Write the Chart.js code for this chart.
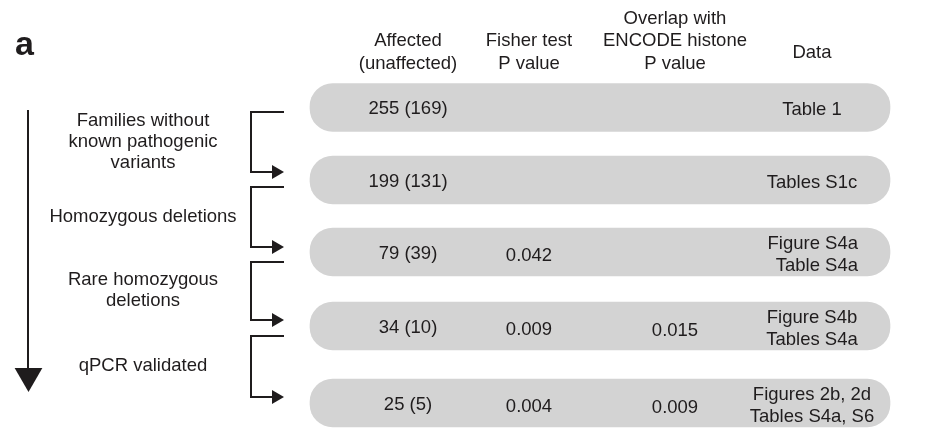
<!DOCTYPE html>
<html>
<head>
<meta charset="utf-8">
<script src="https://cdn.jsdelivr.net/npm/chart.js@4/dist/chart.umd.min.js"></script>
<style>
  html, body { margin: 0; padding: 0; background: #ffffff; }
  #wrap { width: 942px; height: 430px; }
</style>
</head>
<body>
<div id="wrap"><canvas id="chart" width="942" height="430"></canvas></div>
<script>
// ---------- data ----------
const columnHeaders = [
  ['Affected', '(unaffected)'],
  ['Fisher test', 'P value'],
  ['Overlap with', 'ENCODE histone', 'P value'],
  ['Data']
];
const affected   = [255, 199, 79, 34, 25];
const unaffected = [169, 131, 39, 10, 5];
const fisherP    = [null, null, 0.042, 0.009, 0.004];
const encodeP    = [null, null, null, 0.015, 0.009];
const dataRefs = [
  ['Table 1'],
  ['Tables S1c'],
  ['Figure S4a', 'Table S4a'],
  ['Figure S4b', 'Tables S4a'],
  ['Figures 2b, 2d', 'Tables S4a, S6']
];
const filterSteps = [
  ['Families without', 'known pathogenic', 'variants'],
  ['Homozygous deletions'],
  ['Rare homozygous', 'deletions'],
  ['qPCR validated']
];
const panelLabel = 'a';

// ---------- layout (scale units = canvas pixels) ----------
const ROW_Y      = [107.5, 180, 252, 326, 403];
const COL_X      = [408, 529, 675, 812];
const HEADER_Y   = [62, 62, 62, 51];     // baseline row of each header block
const BOX_X      = [310, 890];
const STEP_TOP   = [112, 187, 262, 336];
const STEP_BOT   = [172, 247, 320, 397];
const STEP_TEXT_X = 143;
const BRACKET_X  = 251;
const BRACKET_END = 284;
const HEAD_R     = 8;
const AXIS_X     = 28;
const AXIS_TOP   = 110;
const AXIS_HEAD  = 376;
const AXIS_HEAD_R = 16;
const REF_RIGHT_ROWS = [2];   // reference lists set flush right in these rows
const REF_RIGHT_X = 858;

// ---------- style ----------
const INK = '#1f1c1d';
const BOX_FILL = '#d3d3d3';
const FONT = "'Liberation Sans', Arial, Helvetica, sans-serif";
const FONT_SIZE = 18.5;
const LINE_GAP = 22.5;
const BASE_SHIFT = 6.6;

// rounded row boxes
const boxData = ROW_Y.map(y => ({ x: BOX_X.slice(), y }));

// connectors between successive filtering steps
const bracketSets = STEP_TOP.map((top, i) => ({
  type: 'scatter',
  showLine: true,
  data: [
    { x: BRACKET_END, y: top },
    { x: BRACKET_X, y: top },
    { x: BRACKET_X, y: STEP_BOT[i] },
    { x: BRACKET_END - HEAD_R, y: STEP_BOT[i] }
  ],
  borderColor: INK,
  borderWidth: 2,
  borderJoinStyle: 'miter',
  pointRadius: 0,
  tension: 0
}));

const datasets = [
  {
    type: 'bar',
    data: boxData,
    backgroundColor: BOX_FILL,
    borderWidth: 0,
    borderRadius: 23,
    borderSkipped: false,
    barThickness: 48,
    indexAxis: 'y'
  },
  ...bracketSets,
  {
    type: 'scatter',
    data: STEP_BOT.map(y => ({ x: BRACKET_END - HEAD_R, y })),
    pointStyle: 'triangle',
    rotation: 90,
    pointRadius: HEAD_R,
    pointBackgroundColor: INK,
    pointBorderWidth: 0
  },
  {
    type: 'scatter',
    showLine: true,
    data: [{ x: AXIS_X, y: AXIS_TOP }, { x: AXIS_X, y: AXIS_HEAD - 4 }],
    borderColor: INK,
    borderWidth: 2,
    pointRadius: 0
  },
  {
    type: 'scatter',
    data: [{ x: AXIS_X + 0.5, y: AXIS_HEAD }],
    pointStyle: 'triangle',
    rotation: 180,
    pointRadius: AXIS_HEAD_R,
    pointBackgroundColor: INK,
    pointBorderWidth: 0
  }
];

// all text is placed through the chart scales
const tableText = {
  id: 'tableText',
  afterDatasetsDraw(chart) {
    const { ctx, scales: { x, y } } = chart;
    const put = (s, xv, yv, size, weight, align) => {
      ctx.font = `${weight || 'normal'} ${size || FONT_SIZE}px ${FONT}`;
      ctx.textAlign = align || 'center';
      ctx.fillText(s, x.getPixelForValue(xv), y.getPixelForValue(yv) + BASE_SHIFT);
    };
    ctx.save();
    ctx.fillStyle = INK;
    ctx.textBaseline = 'alphabetic';

    put(panelLabel, 15, 48, 34, 'bold', 'left');

    columnHeaders.forEach((lines, c) => {
      const n = lines.length;
      lines.forEach((s, k) => put(s, COL_X[c], HEADER_Y[c] - (n - 1 - k) * LINE_GAP));
    });

    ROW_Y.forEach((ry, i) => {
      put(`${affected[i]} (${unaffected[i]})`, COL_X[0], ry);
      if (fisherP[i] !== null) put(fisherP[i].toFixed(3), COL_X[1], ry + 2);
      if (encodeP[i] !== null) put(encodeP[i].toFixed(3), COL_X[2], ry + 3);
      const refs = dataRefs[i];
      const flush = REF_RIGHT_ROWS.includes(i);
      refs.forEach((s, k) => put(s, flush ? REF_RIGHT_X : COL_X[3],
        ry + 1 + (k - (refs.length - 1) / 2) * 22, null, null, flush ? 'right' : 'center'));
    });

    filterSteps.forEach((lines, i) => {
      const mid = (STEP_TOP[i] + STEP_BOT[i]) / 2 - 2;
      lines.forEach((s, k) => put(s, STEP_TEXT_X, mid + (k - (lines.length - 1) / 2) * 21));
    });
    ctx.restore();
  }
};

new Chart(document.getElementById('chart'), {
  type: 'bar',
  data: { datasets },
  options: {
    responsive: false,
    animation: false,
    events: [],
    indexAxis: 'y',
    layout: { padding: 0, autoPadding: false },
    plugins: { legend: { display: false }, tooltip: { enabled: false } },
    scales: {
      x: { type: 'linear', min: 0, max: 942, display: false, offset: false },
      y: { type: 'linear', min: 0, max: 430, reverse: true, display: false, offset: false }
    }
  },
  plugins: [tableText]
});
</script>
</body>
</html>
